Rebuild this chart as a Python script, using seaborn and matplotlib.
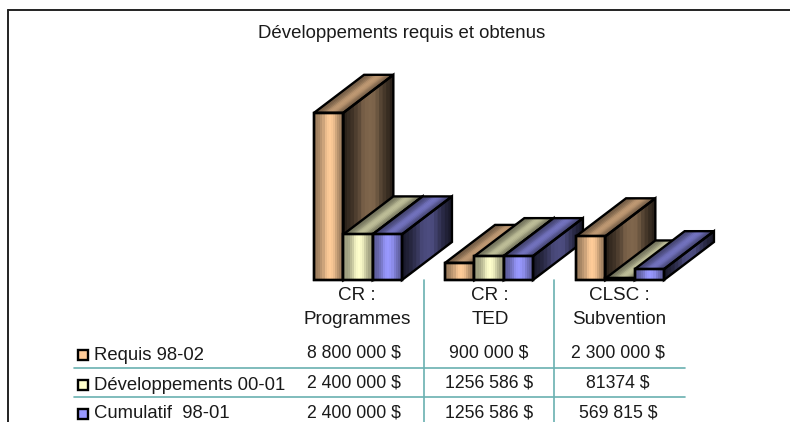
import numpy as np
import pandas as pd
import matplotlib
matplotlib.use('Agg')
import matplotlib.pyplot as plt
import seaborn as sns
from matplotlib.collections import PolyCollection
from matplotlib.patches import Rectangle

title = 'Développements requis et obtenus'
categories = ['CR :\nProgrammes', 'CR :\nTED', 'CLSC :\nSubvention']
series = ['Requis 98-02', 'Développements 00-01', 'Cumulatif  98-01']
requis = [8800000, 900000, 2300000]
developpements = [2400000, 1256586, 81374]
cumulatif = [2400000, 1256586, 569815]
requis_labels = ['8 800 000 $', '900 000 $', '2 300 000 $']
developpements_labels = ['2 400 000 $', '1256 586 $', '81374 $']
cumulatif_labels = ['2 400 000 $', '1256 586 $', '569 815 $']
colors = ['#FFCC99', '#FFFFCC', '#9999FF']

sns.set_theme(style='white')
plt.rcParams['font.family'] = ['Liberation Sans', 'DejaVu Sans']

df = pd.DataFrame({
    'cat': categories * 3,
    'serie': np.repeat(series, 3),
    'value': requis + developpements + cumulatif,
})

W, H = 790, 422
fig = plt.figure(figsize=(W / 100, H / 100), dpi=100)

# overlay in pixel coords for frame and table
ov = fig.add_axes([0, 0, 1, 1])
ov.set_xlim(0, W)
ov.set_ylim(H, 0)
ov.axis('off')

ax = fig.add_axes([292.5 / W, (H - 280) / H, 393 / W, 190 / H])
ax.patch.set_alpha(0)
sns.barplot(data=df, x='cat', y='value', hue='serie', hue_order=series,
            order=categories, palette=colors, width=0.671, gap=0,
            edgecolor='black', linewidth=1.7, legend=False, ax=ax)
ax.set_xlim(-0.5, 2.5)
ax.set_ylim(0, 10000000)
ax.axis('off')

DX = 50 / 131
DY = 2000000
TS = [0, 0.18, 0.32, 0.42, 0.55, 0.66, 0.8, 1]
SHADE = [0.58, 0.66, 0.8, 0.96, 1.0, 0.94, 0.74, 0.55]


def ramp(color, mult):
    # banded shading across one face
    rgb = np.array(matplotlib.colors.to_rgb(color))
    n = 14
    polys_t = np.linspace(0, 1, n + 1)
    mids = (polys_t[:-1] + polys_t[1:]) / 2
    return polys_t, [tuple(rgb * mult * np.interp(t, TS, SHADE)) for t in mids]


def face(a, b, c, d, color, mult, z, lo=0.0):
    # a->b is the shading direction, d->c the opposite side
    a, b, c, d = map(np.array, (a, b, c, d))
    ts, cols = ramp(color, mult)
    if lo:
        cols = [tuple(np.array(k) * (lo + (1 - lo) * min(1, 2.2 * min(t, 1 - t) + 0.15)))
                for k, t in zip(cols, (ts[:-1] + ts[1:]) / 2)]
    # overlap the bands so no light seams show between them
    polys = [[a + (b - a) * t0, a + (b - a) * min(1, t1 + 0.04),
              d + (c - d) * min(1, t1 + 0.04), d + (c - d) * t0]
             for t0, t1 in zip(ts[:-1], ts[1:])]
    ax.add_collection(PolyCollection(polys, facecolors=cols, edgecolors='none',
                                     zorder=z, clip_on=False))
    ax.add_patch(plt.Polygon([a, b, c, d], fill=False, edgecolor='black',
                             linewidth=1.7, zorder=z + 0.1, clip_on=False))


for i, cont in enumerate(ax.containers):
    for j, bar in enumerate(cont):
        x0, w, h = bar.get_x(), bar.get_width(), bar.get_height()
        x1 = x0 + w
        z = 10 + (j * 3 + i) * 2
        face((x1, 0), (x1 + DX, DY), (x1 + DX, DY + h), (x1, h), colors[i], 0.5, z, lo=0.45)
        face((x0, h), (x1, h), (x1 + DX, h + DY), (x0 + DX, h + DY), colors[i], 0.75, z)
        face((x0, 0), (x1, 0), (x1, h), (x0, h), colors[i], 1.0, z + 0.3)
        bar.set_facecolor('none')
        bar.set_zorder(z + 0.5)
        bar.set_clip_on(False)

# frame, the source is cropped at the right and bottom
ov.plot([8, 8], [H, 10], color='#222222', lw=1.4)
ov.plot([8, W], [10, 10], color='#222222', lw=1.4)
ov.text(402, 33, title, ha='center', va='center', fontsize=13.4, color='#1a1a1a')

# table
teal = '#69B0B0'
for xv in [424, 554]:
    ov.plot([xv, xv], [280, H], color=teal, lw=1.2)
for yv in [368, 397]:
    ov.plot([74, 685], [yv, yv], color=teal, lw=1.2)

head_x = [357, 490, 619]
for xc, cat in zip(head_x, categories):
    top, bottom = cat.split('\n')
    ov.text(xc, 295, top, ha='center', va='center', fontsize=13.6, color='#1a1a1a')
    ov.text(xc, 319, bottom, ha='center', va='center', fontsize=13.6, color='#1a1a1a')

value_x = [354, 489, 618]
rows = [requis_labels, developpements_labels, cumulatif_labels]
for name, labels, color, yt, yv in zip(series, rows, colors, [355, 385, 414], [353, 383, 413]):
    ov.add_patch(Rectangle((77.5, yt - 5), 10, 10, facecolor=color, edgecolor='black', linewidth=1.7))
    ov.text(94, yt, name, ha='left', va='center', fontsize=13.3, color='#1a1a1a')
    for xc, lab in zip(value_x, labels):
        ov.text(xc, yv, lab, ha='center', va='center', fontsize=12.7, color='#1a1a1a')

fig.savefig('out.png', dpi=100)
